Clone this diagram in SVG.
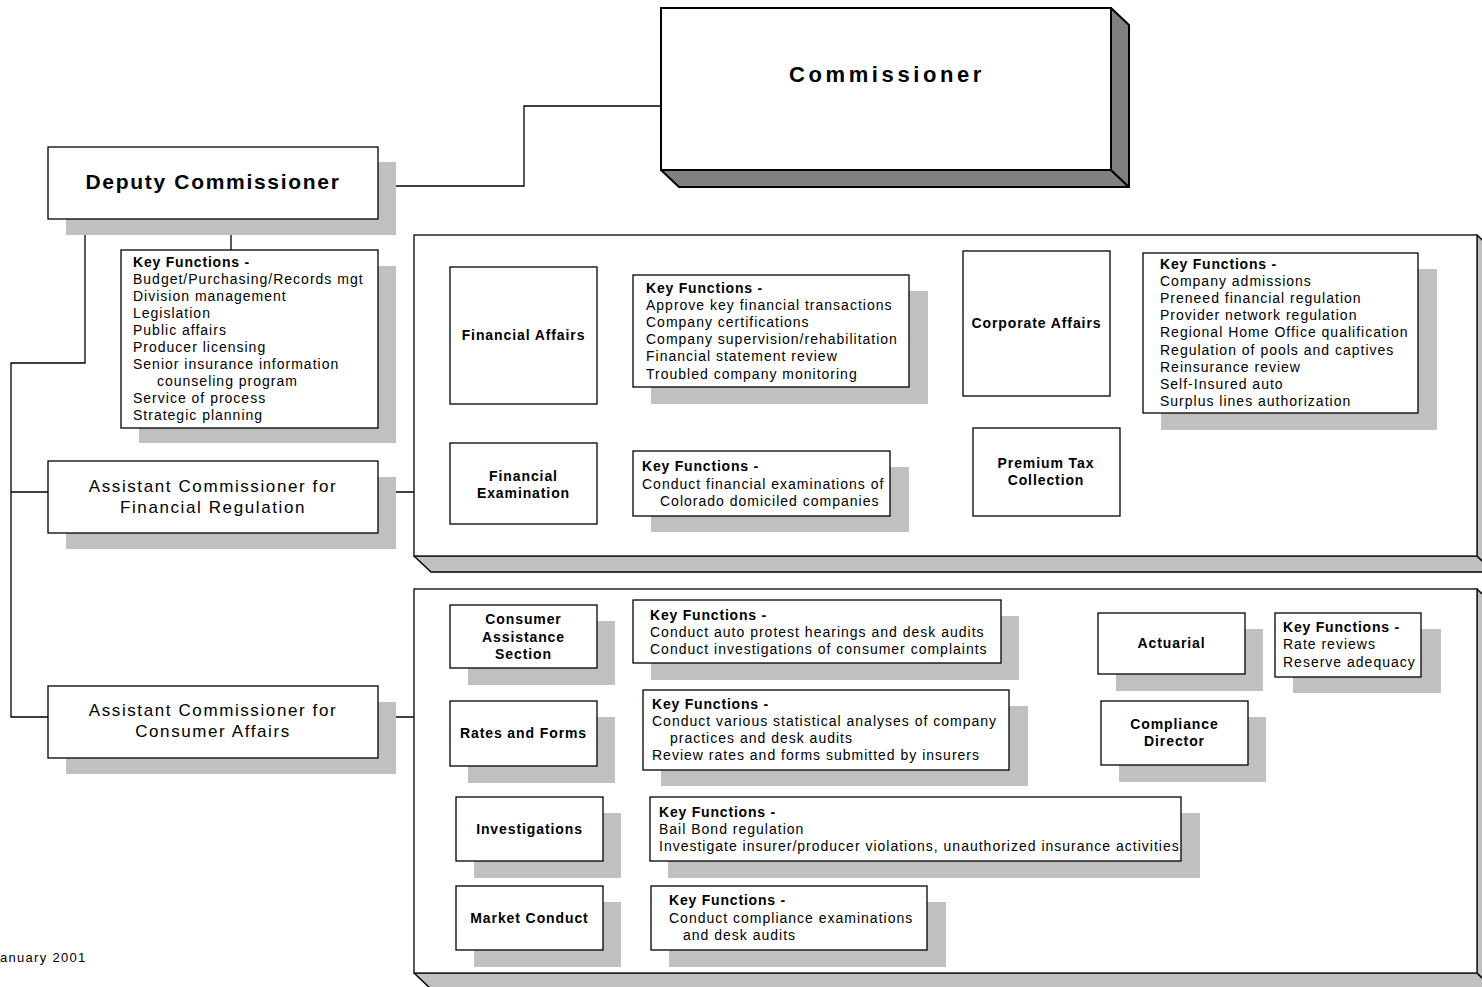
<svg xmlns="http://www.w3.org/2000/svg" width="1482" height="987" viewBox="0 0 1482 987">
<style>
text{font-family:"Liberation Sans",Arial,sans-serif;fill:#000}
.box{fill:#fff;stroke:#000;stroke-width:1.3}
.sh{fill:#c0c0c0}
.kf{font-size:14px;letter-spacing:1px}
.kfh{font-size:14px;font-weight:bold;letter-spacing:0.8px}
.lbl{font-size:14px;font-weight:bold;letter-spacing:0.9px;text-anchor:middle}
.asst{font-size:17px;letter-spacing:1.6px;text-anchor:middle}
.conn{fill:none;stroke:#000;stroke-width:1.3}
.bev{fill:#c0c0c0;stroke:#000;stroke-width:1.5;stroke-linejoin:round}
.bevd{fill:#808080;stroke:#000;stroke-width:2;stroke-linejoin:round}
.front{fill:#fff;stroke:#000;stroke-width:2}
.frontc{fill:#fff;stroke:#222;stroke-width:1.5}
</style>
<g id="connectors">
<polyline class="conn" points="378,186 524,186 524,106 661,106"/>
<line class="conn" x1="231" y1="219" x2="231" y2="250"/>
<polyline class="conn" points="85,219 85,363 11,363 11,717 48,717"/>
<line class="conn" x1="11" y1="492" x2="48" y2="492"/>
<line class="conn" x1="378" y1="492" x2="414" y2="492"/>
<line class="conn" x1="378" y1="717" x2="414" y2="717"/>
</g>
<g id="commissioner">
<polygon class="bevd" points="661,170 1111,170 1129,187 679,187"/>
<polygon class="bevd" points="1111,8 1129,25 1129,187 1111,170"/>
<rect class="front" x="661" y="8" width="450" height="162"/>
<text x="887" y="82" text-anchor="middle" style="font-size:22px;font-weight:bold;letter-spacing:3.6px">Commissioner</text>
</g>
<g id="deputy">
<rect class="sh" x="66" y="162" width="330" height="73"/>
<rect class="box" x="48" y="147" width="330" height="72"/>
<text x="213" y="189" text-anchor="middle" style="font-size:21px;font-weight:bold;letter-spacing:1.7px">Deputy Commissioner</text>
</g>
<g id="deputy-functions">
<rect class="sh" x="139" y="266" width="257" height="177"/>
<rect class="box" x="121" y="250" width="257" height="178"/>
<text class="kfh" x="133" y="266.5">Key Functions -</text>
<text class="kf" x="133" y="283.5">Budget/Purchasing/Records mgt</text>
<text class="kf" x="133" y="300.5">Division management</text>
<text class="kf" x="133" y="317.5">Legislation</text>
<text class="kf" x="133" y="334.5">Public affairs</text>
<text class="kf" x="133" y="351.5">Producer licensing</text>
<text class="kf" x="133" y="368.5">Senior insurance information</text>
<text class="kf" x="157" y="385.5">counseling program</text>
<text class="kf" x="133" y="402.5">Service of process</text>
<text class="kf" x="133" y="419.5">Strategic planning</text>
</g>
<g id="asst-financial">
<rect class="sh" x="66" y="477" width="330" height="72"/>
<rect class="box" x="48" y="461" width="330" height="72"/>
<text class="asst" x="213" y="491.5">Assistant Commissioner for</text>
<text class="asst" x="213" y="513">Financial Regulation</text>
</g>
<g id="asst-consumer">
<rect class="sh" x="66" y="702" width="330" height="72"/>
<rect class="box" x="48" y="686" width="330" height="72"/>
<text class="asst" x="213" y="716">Assistant Commissioner for</text>
<text class="asst" x="213" y="737">Consumer Affairs</text>
</g>
<g id="financial-division">
<polygon class="bev" points="414,556 1477,556 1494,572 431,572"/>
<polygon class="bev" points="1477,235 1494,251 1494,572 1477,556"/>
<rect class="frontc" x="414" y="235" width="1063" height="321"/>
</g>
<g id="financial-affairs">
<rect class="box" x="450" y="267" width="147" height="137"/>
<text class="lbl" x="523.5" y="340">Financial Affairs</text>
</g>
<g id="financial-affairs-functions">
<rect class="sh" x="651" y="291" width="277" height="113"/>
<rect class="box" x="633" y="275" width="276" height="112"/>
<text class="kfh" x="646" y="293">Key Functions -</text>
<text class="kf" x="646" y="310">Approve key financial transactions</text>
<text class="kf" x="646" y="327">Company certifications</text>
<text class="kf" x="646" y="344">Company supervision/rehabilitation</text>
<text class="kf" x="646" y="361">Financial statement review</text>
<text class="kf" x="646" y="378.5">Troubled company monitoring</text>
</g>
<g id="corporate-affairs">
<rect class="box" x="963" y="251" width="147" height="145"/>
<text class="lbl" x="1036.5" y="328">Corporate Affairs</text>
</g>
<g id="corporate-affairs-functions">
<rect class="sh" x="1161" y="269" width="276" height="161"/>
<rect class="box" x="1143" y="253" width="275" height="160"/>
<text class="kfh" x="1160" y="268.5">Key Functions -</text>
<text class="kf" x="1160" y="285.7">Company admissions</text>
<text class="kf" x="1160" y="302.9">Preneed financial regulation</text>
<text class="kf" x="1160" y="320.1">Provider network regulation</text>
<text class="kf" x="1160" y="337.3">Regional Home Office qualification</text>
<text class="kf" x="1160" y="354.5">Regulation of pools and captives</text>
<text class="kf" x="1160" y="371.7">Reinsurance review</text>
<text class="kf" x="1160" y="388.9">Self-Insured auto</text>
<text class="kf" x="1160" y="406.1">Surplus lines authorization</text>
</g>
<g id="financial-examination">
<rect class="box" x="450" y="443" width="147" height="81"/>
<text class="lbl" x="523.5" y="480.5">Financial</text>
<text class="lbl" x="523.5" y="497.5">Examination</text>
</g>
<g id="financial-examination-functions">
<rect class="sh" x="651" y="467" width="258" height="65"/>
<rect class="box" x="633" y="451" width="257" height="65"/>
<text class="kfh" x="642" y="471">Key Functions -</text>
<text class="kf" x="642" y="489">Conduct financial examinations of</text>
<text class="kf" x="660" y="506">Colorado domiciled companies</text>
</g>
<g id="premium-tax">
<rect class="box" x="973" y="428" width="147" height="88"/>
<text class="lbl" x="1046" y="468">Premium Tax</text>
<text class="lbl" x="1046" y="485">Collection</text>
</g>
<g id="consumer-division">
<polygon class="bev" points="414,973 1477,973 1494,989 431,989"/>
<polygon class="bev" points="1477,589 1494,605 1494,989 1477,973"/>
<rect class="frontc" x="414" y="589" width="1063" height="384"/>
</g>
<g id="consumer-assistance">
<rect class="sh" x="468" y="621" width="147" height="64"/>
<rect class="box" x="450" y="605" width="147" height="63"/>
<text class="lbl" x="523.5" y="623.5">Consumer</text>
<text class="lbl" x="523.5" y="641.5">Assistance</text>
<text class="lbl" x="523.5" y="659">Section</text>
</g>
<g id="consumer-assistance-functions">
<rect class="sh" x="651" y="616" width="368" height="64"/>
<rect class="box" x="633" y="600" width="368" height="63"/>
<text class="kfh" x="650" y="619.5">Key Functions -</text>
<text class="kf" x="650" y="637">Conduct auto protest hearings and desk audits</text>
<text class="kf" x="650" y="654">Conduct investigations of consumer complaints</text>
</g>
<g id="actuarial">
<rect class="sh" x="1116" y="629" width="147" height="62"/>
<rect class="box" x="1098" y="613" width="147" height="61"/>
<text class="lbl" x="1171.5" y="648">Actuarial</text>
</g>
<g id="actuarial-functions">
<rect class="sh" x="1293" y="629" width="148" height="64"/>
<rect class="box" x="1275" y="613" width="146" height="64"/>
<text class="kfh" x="1283" y="632">Key Functions -</text>
<text class="kf" x="1283" y="649">Rate reviews</text>
<text class="kf" x="1283" y="667">Reserve adequacy</text>
</g>
<g id="rates-forms">
<rect class="sh" x="468" y="717" width="147" height="66"/>
<rect class="box" x="450" y="701" width="147" height="65"/>
<text class="lbl" x="523.5" y="738">Rates and Forms</text>
</g>
<g id="rates-forms-functions">
<rect class="sh" x="661" y="706" width="367" height="80"/>
<rect class="box" x="643" y="690" width="366" height="80"/>
<text class="kfh" x="652" y="709">Key Functions -</text>
<text class="kf" x="652" y="726">Conduct various statistical analyses of company</text>
<text class="kf" x="670" y="743">practices and desk audits</text>
<text class="kf" x="652" y="760">Review rates and forms submitted by insurers</text>
</g>
<g id="compliance-director">
<rect class="sh" x="1119" y="717" width="147" height="65"/>
<rect class="box" x="1101" y="701" width="147" height="64"/>
<text class="lbl" x="1174.5" y="729">Compliance</text>
<text class="lbl" x="1174.5" y="746">Director</text>
</g>
<g id="investigations">
<rect class="sh" x="474" y="813" width="147" height="65"/>
<rect class="box" x="456" y="797" width="147" height="64"/>
<text class="lbl" x="529.5" y="834">Investigations</text>
</g>
<g id="investigations-functions">
<rect class="sh" x="668" y="813" width="532" height="65"/>
<rect class="box" x="650" y="797" width="531" height="64"/>
<text class="kfh" x="659" y="817">Key Functions -</text>
<text class="kf" x="659" y="834">Bail Bond regulation</text>
<text class="kf" x="659" y="851">Investigate insurer/producer violations, unauthorized insurance activities</text>
</g>
<g id="market-conduct">
<rect class="sh" x="474" y="902" width="147" height="65"/>
<rect class="box" x="456" y="886" width="147" height="64"/>
<text class="lbl" x="529.5" y="923">Market Conduct</text>
</g>
<g id="market-conduct-functions">
<rect class="sh" x="669" y="902" width="277" height="65"/>
<rect class="box" x="651" y="886" width="276" height="64"/>
<text class="kfh" x="669" y="905">Key Functions -</text>
<text class="kf" x="669" y="923">Conduct compliance examinations</text>
<text class="kf" x="683" y="940">and desk audits</text>
</g>
<text x="0" y="962" style="font-size:13px;letter-spacing:1.3px">anuary 2001</text>
</svg>
